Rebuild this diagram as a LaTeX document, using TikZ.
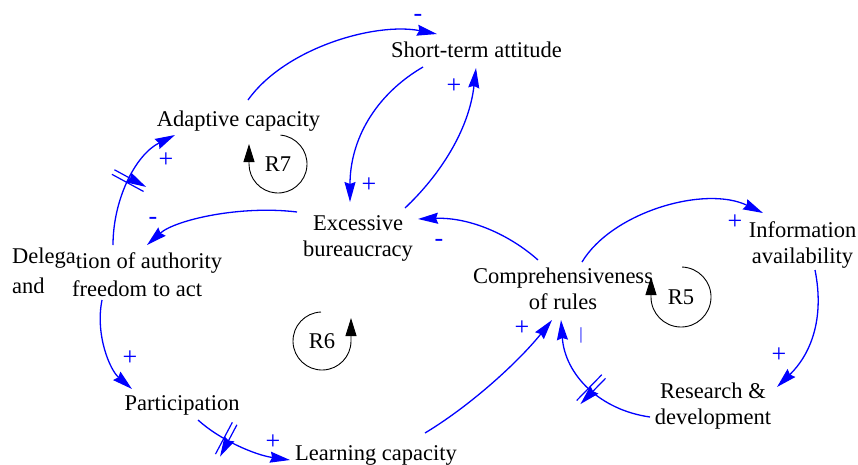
\documentclass[tikz,border=0pt]{standalone}
\usepackage{fontspec}
\setmainfont{Liberation Serif}
\usetikzlibrary{arrows.meta}
\newcommand{\twoline}[2]{\begin{tabular}[t]{@{}c@{}}#1\\#2\end{tabular}}
\begin{document}
\begin{tikzpicture}[x=1pt,y=-1pt,
  var/.style={inner sep=0pt, anchor=base, font=\fontsize{22.5}{26}\selectfont},
  link/.style={draw=blue, line width=1.3pt, -{Stealth[length=20pt,width=11pt,inset=2pt]}},
  loopline/.style={draw=black, line width=0.9pt, -{Triangle[length=18pt,width=11pt]}},
  pol/.style={text=blue, inner sep=0pt, font=\fontsize{26}{26}\selectfont},
  looplabel/.style={inner sep=0pt, font=\fontsize{22.5}{26}\selectfont},
  delaymark/.pic={\draw[blue,line width=1.2pt] (-2.6,-18)--(-2.6,18) (2.6,-18)--(2.6,18);}
]
\useasboundingbox[fill=white] (0,0) rectangle (858,464);

% variables
\node[var] (sta) at (476.5,57) {Short-term attitude};
\node[var] (ac)  at (238.5,126) {Adaptive capacity};
\node[var] (eb)  at (358,230) {\twoline{Excessive}{bureaucracy}};
\node[var, anchor=base west, font=\fontsize{22.5}{28}\selectfont] (del) at (12,268)
  {\begin{tabular}[t]{@{}l@{}}\raisebox{5pt}{Delega}tion of authority\\\makebox[60pt][l]{\raisebox{3pt}{and}}freedom to act\end{tabular}};
\node[var] (par) at (182,410) {Participation};
\node[var] (lc)  at (376,460) {Learning capacity};
\node[var] (cr)  at (563,283) {\twoline{Comprehensiveness}{of rules}};
\node[var] (ia)  at (802.5,237) {\twoline{Information}{availability}};
\node[var] (rd)  at (713,398) {\twoline{Research \&}{development}};

% causal links
\draw[link] ([shift={(9.5,-26)}]ac.base) .. controls +(37,-52) and +(-62,-12) .. ([shift={(-39.5,-23)}]sta.base);
\draw[link] ([shift={(-53.5,10)}]sta.base) .. controls +(-48,28) and +(0,-62) .. ([shift={(-8,-28)}]eb.base);
\draw[link] ([shift={(47,-22)}]eb.base) .. controls +(35,-33) and +(-7,62) .. ([shift={(-0.5,11)}]sta.base);
\draw[link] ([shift={(-61,-18)}]eb.base) .. controls +(-57,-7) and +(28,-25) .. ([shift={(135,-23)}]del.base west);
\draw[link] ([shift={(101,-23)}]del.base west) .. controls +(0,-45) and +(-40,20) .. ([shift={(-63.5,9)}]ac.base)
  pic[pos=0.5, sloped]{delaymark};
\draw[link] ([shift={(90,32)}]del.base west) .. controls +(-7,35) and +(-22,-19) .. ([shift={(-50,-21)}]par.base);
\draw[link] ([shift={(16,10)}]par.base) .. controls +(22,20) and +(-35,-5) .. ([shift={(-86,0)}]lc.base)
  pic[pos=0.36, sloped]{delaymark};
\draw[link] ([shift={(49,-27)}]lc.base) .. controls +(48,-29) and +(-32,40) .. ([shift={(-11,37)}]cr.base);
\draw[link] ([shift={(-63,19)}]rd.base) .. controls +(-50,-7) and +(4,55) .. ([shift={(-2,37)}]cr.base)
  pic[pos=0.47, sloped]{delaymark};
\draw[link] ([shift={(-25,-23)}]cr.base) .. controls +(-28,-25) and +(52,-2) .. ([shift={(60,-11)}]eb.base);
\draw[link] ([shift={(19,-21)}]cr.base) .. controls +(30,-50) and +(-58,-28) .. ([shift={(-39.5,-24)}]ia.base);
\draw[link] ([shift={(12.5,33)}]ia.base) .. controls +(10,50) and +(33,-32) .. ([shift={(64,-11)}]rd.base);

% polarities
\node[pol] (p1) at (418,18) {-};
\node[pol] (p2) at (369,185) {+};
\node[pol] (p3) at (454,86) {+};
\node[pol] (p4) at (153,221) {-};
\node[pol] (p5) at (166,160) {+};
\node[pol] (p6) at (130,358) {+};
\node[pol] (p7) at (273,442) {+};
\node[pol] (p8) at (522,328) {+};
\node[pol, font=\fontsize{17}{17}\selectfont] (p9) at (581,335) {|};
\node[pol] (p10) at (439,243) {-};
\node[pol] (p11) at (735,222) {+};
\node[pol] (p12) at (779,355) {+};

% loop identifiers
\node[looplabel] (r7) at (278,164) {R7};
\node[looplabel] (r6) at (322,341) {R6};
\node[looplabel] (r5) at (681,297) {R5};
\draw[loopline] (r7.center) ++(-85:29) arc[start angle=-85, end angle=180, radius=29] -- ++(0,-20);
\draw[loopline] (r6.center) ++(-92:29) arc[start angle=-92, end angle=-360, radius=29] -- ++(0,-23);
\draw[loopline] (r5.center) ++(-88:30) arc[start angle=-88, end angle=180, radius=30] -- ++(0,-20);
\end{tikzpicture}
\end{document}
